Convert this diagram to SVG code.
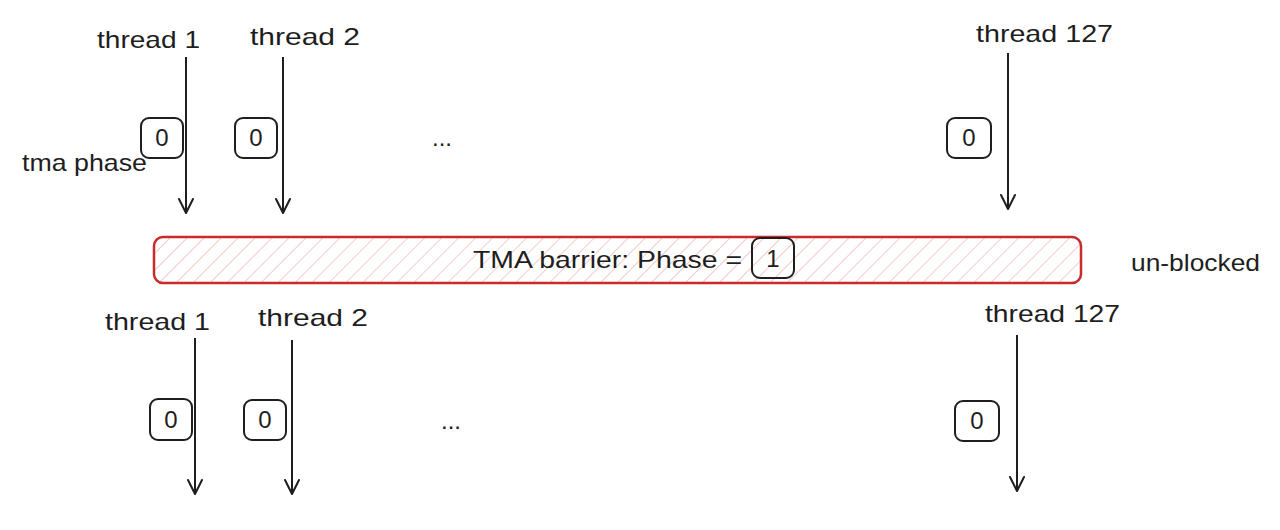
<svg xmlns="http://www.w3.org/2000/svg" width="1280" height="530" viewBox="0 0 1280 530">
<style>
.t{font-family:"Liberation Sans","DejaVu Sans",sans-serif;font-size:24px;fill:#1e1e1e}
.c{text-anchor:middle}
.box{fill:none;stroke:#1e1e1e;stroke-width:2}
.ln{stroke:#1e1e1e;stroke-width:2;fill:none}
</style>
<defs>
<marker id="ah" viewBox="-2 -10 20 20" refX="15" refY="0" markerWidth="20" markerHeight="20" markerUnits="userSpaceOnUse" orient="auto">
<path d="M1 -7 L15 0 L1 7" fill="none" stroke="#1e1e1e" stroke-width="2" stroke-linecap="round" stroke-linejoin="round"/>
</marker>
<pattern id="hatch" width="12" height="12" patternUnits="userSpaceOnUse" patternTransform="rotate(45)">
<line x1="0" y1="0" x2="0" y2="12" stroke="#eeaaaa" stroke-width="1.2"/>
</pattern>
</defs>
<rect width="1280" height="530" fill="#ffffff"/>

<g id="connectors">
<line class="ln" x1="186" y1="57" x2="186" y2="213" marker-end="url(#ah)"/>
<line class="ln" x1="283" y1="57" x2="283" y2="213" marker-end="url(#ah)"/>
<line class="ln" x1="1008" y1="53" x2="1008" y2="209" marker-end="url(#ah)"/>
<line class="ln" x1="195" y1="338" x2="195" y2="494" marker-end="url(#ah)"/>
<line class="ln" x1="292" y1="340" x2="292" y2="494" marker-end="url(#ah)"/>
<line class="ln" x1="1017" y1="335" x2="1017" y2="491" marker-end="url(#ah)"/>
</g>

<g id="top-thread1">
<text class="t" x="97" y="48" textLength="103" lengthAdjust="spacingAndGlyphs">thread 1</text>
<rect class="box" x="141" y="118" width="42" height="40" rx="8"/>
<text class="t c" x="162" y="146">0</text>
</g>
<g id="top-thread2">
<text class="t" x="250" y="45" textLength="110" lengthAdjust="spacingAndGlyphs">thread 2</text>
<rect class="box" x="235" y="118" width="42" height="40" rx="8"/>
<text class="t c" x="256" y="146">0</text>
</g>
<g id="tma-phase-label">
<text class="t" x="22" y="171" textLength="125" lengthAdjust="spacingAndGlyphs">tma phase</text>
</g>
<g id="top-ellipsis">
<text class="t c" x="442" y="146">...</text>
</g>
<g id="top-thread127">
<text class="t" x="976" y="42" textLength="137" lengthAdjust="spacingAndGlyphs">thread 127</text>
<rect class="box" x="947" y="118" width="44" height="40" rx="8"/>
<text class="t c" x="969" y="146">0</text>
</g>

<g id="barrier">
<rect x="154" y="237" width="927" height="46" rx="9" fill="url(#hatch)" stroke="#c92a2a" stroke-width="2.5"/>
<text class="t" x="473" y="268" textLength="269" lengthAdjust="spacingAndGlyphs">TMA barrier: Phase =</text>
<rect class="box" x="752" y="238" width="42" height="40" rx="8"/>
<text class="t c" x="773" y="267">1</text>
</g>
<g id="unblocked">
<text class="t" x="1131" y="271" textLength="129" lengthAdjust="spacingAndGlyphs">un-blocked</text>
</g>

<g id="bottom-thread1">
<text class="t" x="105" y="330" textLength="105" lengthAdjust="spacingAndGlyphs">thread 1</text>
<rect class="box" x="150" y="399" width="42" height="41" rx="8"/>
<text class="t c" x="171" y="428">0</text>
</g>
<g id="bottom-thread2">
<text class="t" x="258" y="326" textLength="110" lengthAdjust="spacingAndGlyphs">thread 2</text>
<rect class="box" x="244" y="400" width="42" height="40" rx="8"/>
<text class="t c" x="265" y="428">0</text>
</g>
<g id="bottom-ellipsis">
<text class="t c" x="451" y="429">...</text>
</g>
<g id="bottom-thread127">
<text class="t" x="985" y="322" textLength="135" lengthAdjust="spacingAndGlyphs">thread 127</text>
<rect class="box" x="955" y="401" width="44" height="40" rx="8"/>
<text class="t c" x="977" y="429">0</text>
</g>
</svg>
